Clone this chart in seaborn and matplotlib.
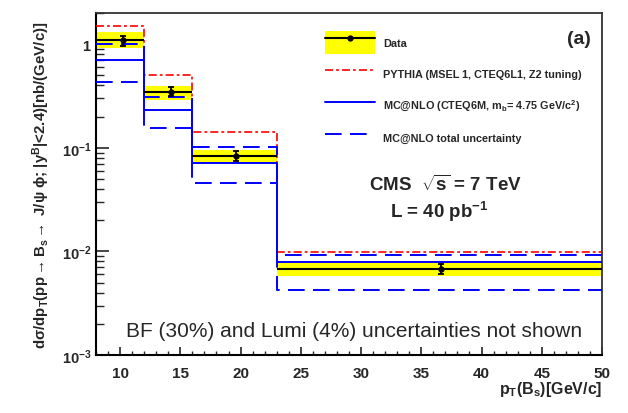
import numpy as np
import pandas as pd
import matplotlib
matplotlib.use("Agg")
import matplotlib.pyplot as plt
import seaborn as sns
from matplotlib.lines import Line2D
from matplotlib.patches import Patch
from matplotlib.ticker import MultipleLocator, LogLocator, FuncFormatter, NullFormatter

# ---------------- data ----------------
bin_edges = [8, 12, 16, 23, 50]
data_x = [10.2, 14.2, 19.6, 36.6]
data_y = [1.09, 0.349, 0.0834, 0.0068]
data_stat = [0.12, 0.035, 0.009, 0.0007]
data_syst_lo = [0.91, 0.291, 0.0706, 0.0058]
data_syst_hi = [1.31, 0.399, 0.0945, 0.0081]
pythia = [1.49, 0.505, 0.142, 0.00996]
mcnlo = [0.703, 0.234, 0.0707, 0.0079]
mcnlo_up = [1.015, 0.306, 0.1018, 0.0093]
mcnlo_dn = [0.433, 0.156, 0.0454, 0.0042]

legend_labels = ["Data",
                 "PYTHIA (MSEL 1, CTEQ6L1, Z2 tuning)",
                 r"MC@NLO (CTEQ6M, m$_{\mathbf{b}}$= 4.75 GeV/c$^{\mathbf{2}}$)",
                 "MC@NLO total uncertainty"]

# ---------------- style ----------------
sns.set_theme(style="ticks")
plt.rcParams["font.family"] = ["Liberation Sans", "DejaVu Sans"]
plt.rcParams["mathtext.fontset"] = "custom"
plt.rcParams["mathtext.rm"] = "Liberation Sans"
plt.rcParams["mathtext.it"] = "Liberation Sans:italic"
plt.rcParams["mathtext.bf"] = "Liberation Sans:bold"
plt.rcParams["lines.scale_dashes"] = False

RED = "#ff0000"
BLUE = "#0000ff"
YELLOW = "#ffff00"
red_ls = (0, (5.8, 2.2, 2.0, 2.2))
blue_dash = (0, (12, 6))

fig = plt.figure(figsize=(6.28, 4.14), dpi=100)
L, R, T, B = 96, 602, 14, 356
ax = fig.add_axes([L / 628, 1 - B / 414, (R - L) / 628, (B - T) / 414])

edges = np.array(bin_edges, dtype=float)
lefts = edges[:-1]
widths = np.diff(edges)

def step_df(vals):
    return pd.DataFrame({"x": edges, "y": list(vals) + [vals[-1]]})

# data systematic band
lo = np.array(data_syst_lo)
hi = np.array(data_syst_hi)
ax.bar(lefts, hi - lo, bottom=lo, width=widths, align="edge",
       color=YELLOW, lw=0, zorder=1)

# theory histograms
for vals, col, ls, lw in [(pythia, RED, red_ls, 1.2),
                          (mcnlo_up, BLUE, blue_dash, 1.4),
                          (mcnlo_dn, BLUE, blue_dash, 1.4),
                          (mcnlo, BLUE, "-", 1.4)]:
    d = step_df(vals)
    sns.lineplot(data=d, x="x", y="y", ax=ax, color=col, linestyle=ls,
                 lw=lw, drawstyle="steps-post", zorder=3, legend=False)

# data central line + stat error points
ax.hlines(data_y, lefts, edges[1:], color="black", lw=1.5, zorder=4)
ax.errorbar(data_x, data_y, yerr=data_stat, fmt="o", color="black", ms=3.5,
            capsize=2, elinewidth=1.3, capthick=1.3, zorder=5)

# ---------------- axes ----------------
ax.set_yscale("log")
ax.set_xlim(8, 50)
ax.set_ylim(1e-3, 2)
ax.xaxis.set_major_locator(MultipleLocator(5))
ax.xaxis.set_minor_locator(MultipleLocator(1))
ax.yaxis.set_major_locator(LogLocator(base=10, numticks=10))
ax.yaxis.set_minor_locator(LogLocator(base=10, subs=np.arange(2, 10), numticks=20))
ax.yaxis.set_minor_formatter(NullFormatter())

def yfmt(v, pos):
    e = int(round(np.log10(v)))
    if e == 0:
        return r"$\mathbf{1}$"
    return r"$\mathbf{10^{%d}}$" % e
ax.yaxis.set_major_formatter(FuncFormatter(yfmt))

ax.tick_params(axis="x", which="major", direction="in", length=6, width=1.2,
               top=False, pad=8, labelsize=11)
ax.tick_params(axis="x", which="minor", direction="in", length=3, width=1.0, top=False)
ax.tick_params(axis="y", which="major", direction="in", length=9.5, width=1.2,
               right=False, pad=3, labelsize=10.5)
ax.tick_params(axis="y", which="minor", direction="in", length=5.5, width=1.0, right=False)
for lab in ax.get_xticklabels():
    lab.set_fontweight("bold")
for s in ["left", "bottom"]:
    ax.spines[s].set_linewidth(1.5)
    ax.spines[s].set_color("black")
for s in ["top", "right"]:
    ax.spines[s].set_linewidth(1.3)
    ax.spines[s].set_color("#333333")
ax.set_xlabel("")
ax.set_ylabel(r"d$\mathbf{\sigma}$/dp$_{\mathbf{T}}$(pp$\mathbf{\rightarrow}$B$_{\mathbf{s}}$$\mathbf{\rightarrow}$ J/$\mathbf{\psi}$ $\mathbf{\phi}$; |y$^{\mathbf{B}}$|<2.4)[nb/(GeV/c)]",
              fontsize=10.8, fontweight="bold")
ax.yaxis.set_label_coords((52 - L) / (R - L), 0.5)

fig.text(R / 628, 1 - 394 / 414, r"p$_{\mathbf{T}}$(B$_{\mathbf{s}}$)[GeV/c]",
         ha="right", va="baseline", fontsize=11.5, fontweight="bold")

# ---------------- legend ----------------
fs = 7.8
fs_px = fs * 100 / 72
handles = [(Patch(facecolor=YELLOW, edgecolor="none"),
            Line2D([], [], color="black", lw=1.5, marker="o", ms=3.5)),
           Line2D([], [], color=RED, lw=1.2, linestyle=red_ls),
           Line2D([], [], color=BLUE, lw=1.4),
           Line2D([], [], color=BLUE, lw=1.4, linestyle=blue_dash)]
leg = ax.legend(handles, legend_labels, loc="upper left",
                bbox_to_anchor=(325 / 628, 1 - 31.5 / 414),
                bbox_transform=fig.transFigure, frameon=False,
                prop={"size": fs, "weight": "bold"},
                handlelength=50 / fs_px, handleheight=3.0,
                labelspacing=0.75, handletextpad=8 / fs_px,
                borderpad=0, borderaxespad=0)

# ---------------- annotations ----------------
fig.text(579 / 628, 1 - 40 / 414, "(a)", ha="center", va="center",
         fontsize=14, fontweight="bold")
fig.text(445 / 628, 1 - 185 / 414, r"CMS  $\sqrt{\mathbf{s}}$ = 7 TeV",
         ha="center", va="center", fontsize=13.5, fontweight="bold")
fig.text(439 / 628, 1 - 212 / 414, r"L = 40 pb$^{\mathbf{-1}}$",
         ha="center", va="center", fontsize=13.5, fontweight="bold")
fig.text(354 / 628, 1 - 332 / 414,
         "BF (30%) and Lumi (4%) uncertainties not shown",
         ha="center", va="center", fontsize=15)

fig.savefig("out.png", dpi=100)
